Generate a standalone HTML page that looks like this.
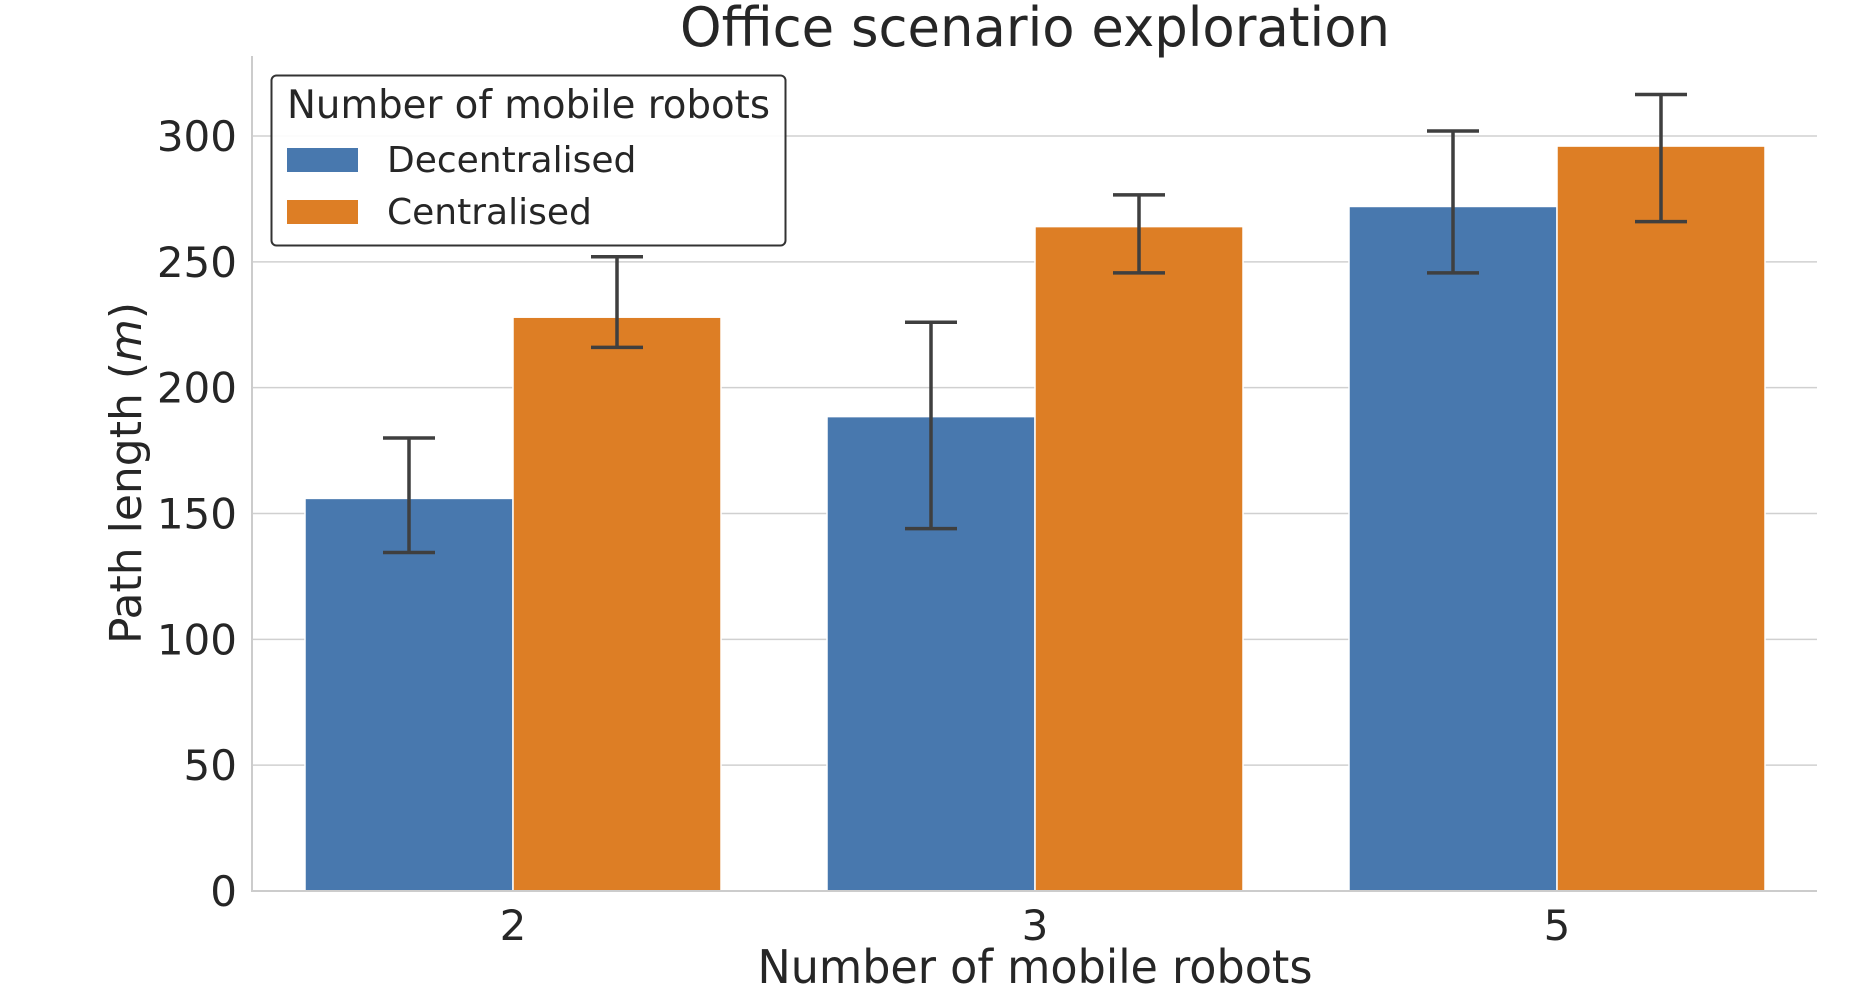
<!DOCTYPE html>
<html><head><meta charset="utf-8"><style>
html,body{margin:0;padding:0;background:#fff;}
svg{display:block;font-family:"DejaVu Sans","Liberation Sans",sans-serif;}
</style></head><body>
<svg id="chart" width="1853" height="991" viewBox="0 0 1853 991">
<g id="grid"></g>
<g id="bars"></g>
<g id="errs"></g>
<g id="axes"></g>
<text x="1035" y="46" font-size="54" fill="#262626" text-anchor="middle" textLength="710" lengthAdjust="spacingAndGlyphs">Office scenario exploration</text>
<text x="1035" y="983" font-size="46" fill="#262626" text-anchor="middle" textLength="555" lengthAdjust="spacingAndGlyphs">Number of mobile robots</text>
<text transform="translate(141,473) rotate(-90)" font-size="44" fill="#262626" text-anchor="middle">Path length (<tspan font-style="italic">m</tspan>)</text>
<g>
<rect x="271.5" y="75.5" width="514" height="170" rx="5" fill="#fff" fill-opacity="0.9" stroke="#333" stroke-width="2"/>
<text x="287" y="118" font-size="39" fill="#262626" textLength="483" lengthAdjust="spacingAndGlyphs">Number of mobile robots</text>
<rect x="287" y="148" width="71" height="24" fill="#4878ae"/>
<text x="387" y="172" font-size="36" fill="#262626">Decentralised</text>
<rect x="287" y="200" width="71" height="24" fill="#dd7e25"/>
<text x="387" y="224" font-size="36" fill="#262626">Centralised</text>
</g>
</svg>
<script>
const categories = ["2","3","5"];
const decentralised = [156, 188.5, 272];
const centralised = [228, 264, 296];
const decLow = [134.5, 144, 245.6];
const decHigh = [180, 226, 302];
const cenLow = [216, 245.6, 266];
const cenHigh = [252, 276.6, 316.5];
const yTicks = [0, 50, 100, 150, 200, 250, 300];

const NS = "http://www.w3.org/2000/svg";
const L = 252, R = 1817, B = 891, T = 56;
const step = 522, first = 513, bw = 208;
function y(v){ return B - v * (B - 136) / 300; }
function xc(i){ return first + i * step; }
function mk(tag, attrs, parent){
  const e = document.createElementNS(NS, tag);
  for (const k in attrs) e.setAttribute(k, attrs[k]);
  document.getElementById(parent).appendChild(e);
  return e;
}
yTicks.forEach(t => {
  if (t > 0) {
    const g = mk("line", {x1:L, x2:R, y1:y(t), y2:y(t), stroke:"#d0d0d0", "stroke-width":1.5}, "grid");
    
    
  }
  const tx = mk("text", {x:237, y:y(t)+15, "font-size":42, fill:"#262626", "text-anchor":"end"}, "axes");
  tx.textContent = t;
  
  
});
const series = [[decentralised, decLow, decHigh, "#4878ae", -1, "decentralised"], [centralised, cenLow, cenHigh, "#dd7e25", 0, "centralised"]];
categories.forEach((c, i) => {
  series.forEach(s => {
    const x0 = xc(i) + s[4] * bw;
    const r = mk("rect", {x:x0, y:y(s[0][i]), width:bw, height:B - y(s[0][i]), fill:s[3], stroke:"#fff", "stroke-width":1.5}, "bars");
    
    
    const cx = x0 + bw/2;
    const e = mk("path", {d:`M${cx},${y(s[1][i])}V${y(s[2][i])}M${cx-26},${y(s[1][i])}H${cx+26}M${cx-26},${y(s[2][i])}H${cx+26}`, stroke:"#3f3f3f", "stroke-width":3.5, fill:"none"}, "errs");
    
    
  });
  const tl = mk("text", {x:xc(i), y:940, "font-size":42, fill:"#262626", "text-anchor":"middle"}, "axes");
  tl.textContent = c;
  
  
});
const ax = mk("path", {d:`M${L},${T}V${B}H${R}`, stroke:"#cccccc", "stroke-width":2, fill:"none"}, "axes");


</script>
</body></html>
